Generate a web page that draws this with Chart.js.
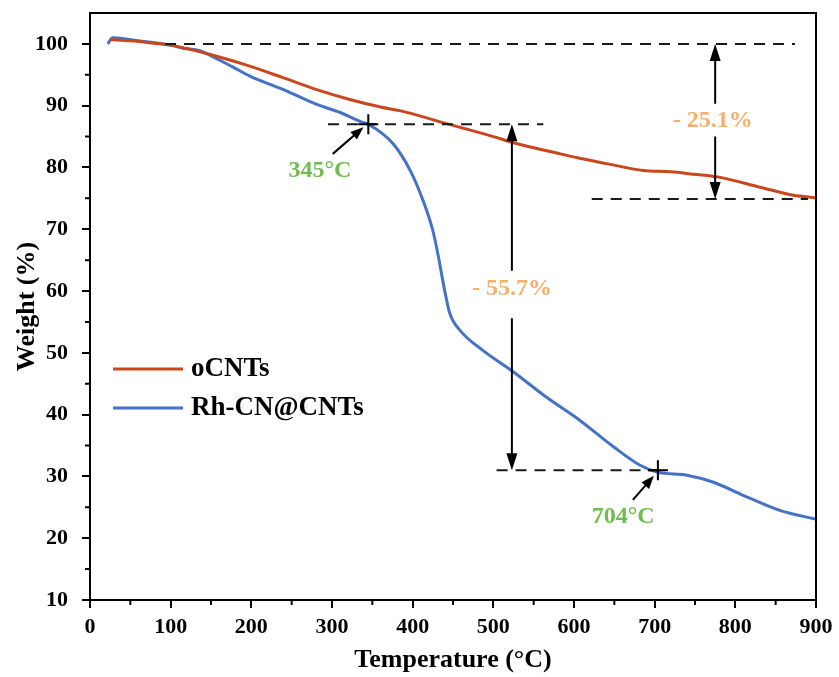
<!DOCTYPE html>
<html>
<head>
<meta charset="utf-8">
<script src="https://cdn.jsdelivr.net/npm/chart.js@4.4.1/dist/chart.umd.min.js"></script>
<style>
  body { margin: 0; background: #fff; }
</style>
</head>
<body>
<canvas id="tga" width="839" height="677"></canvas>
<script>
// TGA curves (temperature in °C, weight in %)
const oTemp = [25, 50, 74, 100, 115, 157, 198, 240, 281, 322, 363, 384, 442, 500, 525, 583, 607, 645, 686, 720, 748, 781, 831, 872, 900];
const oWeight = [100.7, 100.5, 100.2, 99.8, 99.4, 98.0, 96.4, 94.5, 92.6, 91.0, 89.7, 89.2, 87.1, 85.0, 84.0, 82.2, 81.5, 80.5, 79.5, 79.3, 78.9, 78.4, 76.8, 75.5, 75.1];

const rhTemp = [22, 28, 45, 60, 80, 100, 115, 136, 157, 178, 198, 240, 281, 310, 338, 345, 376, 397, 413, 425, 432, 438, 446, 459, 487, 525, 566, 607, 649, 682, 703, 740, 772, 814, 855, 896, 900];
const rhWeight = [100.0, 101.0, 100.8, 100.5, 100.2, 99.8, 99.3, 98.9, 97.6, 96.2, 94.8, 92.6, 90.2, 88.9, 87.3, 87.0, 83.8, 79.5, 74.6, 69.8, 65.5, 61.2, 56.4, 53.6, 50.4, 46.9, 42.8, 39.1, 34.8, 31.8, 30.7, 30.2, 29.1, 26.7, 24.5, 23.2, 23.1];

const seriesNames = ['oCNTs', 'Rh-CN@CNTs'];
const seriesColors = ['#C8471C', '#4472C4'];

// annotation positions in data units
const dashLines = [
    { x1: 93, x2: 874, y: 100 },
    { x1: 622, x2: 890, y: 74.9 },
    { x1: 295, x2: 562, y: 87 },
    { x1: 504, x2: 715, y: 31 }
];
const crossPoints = [[345, 87], [704, 31]];
const spanArrows = [
    { x: 775, top: 100, bottom: 74.9, gapTop: 90.3, gapBottom: 85.0 },
    { x: 523, top: 87, bottom: 31, gapTop: 63.3, gapBottom: 55.6 }
];
const pointerArrows = [
    { from: [301, 82.2], to: [339, 86.5] },
    { from: [673, 26.2], to: [699, 30.1] }
];
const notes = [
    { text: '- 25.1%', x: 772, y: 87.5, color: '#F6B06A' },
    { text: '- 55.7%', x: 523, y: 60.4, color: '#F6B06A' },
    { text: '345°C', x: 285, y: 79.5, color: '#6CBD4B' },
    { text: '704°C', x: 661, y: 23.4, color: '#6CBD4B' }
];

const serif = '"Liberation Serif", "Times New Roman", serif';

function arrowHead(ctx, tx, ty, angle, len, half) {
    ctx.beginPath();
    ctx.moveTo(tx, ty);
    ctx.lineTo(tx - len * Math.cos(angle) + half * Math.sin(angle), ty - len * Math.sin(angle) - half * Math.cos(angle));
    ctx.lineTo(tx - len * Math.cos(angle) - half * Math.sin(angle), ty - len * Math.sin(angle) + half * Math.cos(angle));
    ctx.closePath();
    ctx.fill();
}

const overlay = {
    id: 'overlay',
    afterDraw(chart) {
        const { ctx, chartArea: a, scales: { x, y } } = chart;
        const px = v => x.getPixelForValue(v);
        const py = v => y.getPixelForValue(v);
        ctx.save();

        // box
        ctx.strokeStyle = '#000';
        ctx.lineWidth = 2;
        ctx.strokeRect(a.left, a.top, a.right - a.left, a.bottom - a.top);

        // minor ticks
        ctx.beginPath();
        for (let v = 50; v < 900; v += 100) {
            ctx.moveTo(px(v), a.bottom);
            ctx.lineTo(px(v), a.bottom + 5);
        }
        for (let v = 15; v < 105; v += 10) {
            ctx.moveTo(a.left, py(v));
            ctx.lineTo(a.left - 5, py(v));
        }
        ctx.stroke();

        // dashed guide lines
        ctx.strokeStyle = '#1a1a1a';
        ctx.setLineDash([11, 8]);
        dashLines.forEach(d => {
            ctx.beginPath();
            ctx.moveTo(px(d.x1), py(d.y));
            ctx.lineTo(px(d.x2), py(d.y));
            ctx.stroke();
        });
        ctx.setLineDash([]);

        // cross markers
        ctx.strokeStyle = '#000';
        crossPoints.forEach(p => {
            ctx.beginPath();
            ctx.moveTo(px(p[0]), py(p[1]) - 10);
            ctx.lineTo(px(p[0]), py(p[1]) + 10);
            ctx.moveTo(px(p[0]) - 10, py(p[1]));
            ctx.lineTo(px(p[0]) + 10, py(p[1]));
            ctx.stroke();
        });

        // double arrows showing weight loss
        ctx.fillStyle = '#000';
        spanArrows.forEach(s => {
            const sx = px(s.x);
            ctx.beginPath();
            ctx.moveTo(sx, py(s.top) + 10);
            ctx.lineTo(sx, py(s.gapTop));
            ctx.moveTo(sx, py(s.gapBottom));
            ctx.lineTo(sx, py(s.bottom) - 10);
            ctx.stroke();
            arrowHead(ctx, sx, py(s.top), -Math.PI / 2, 17, 5.5);
            arrowHead(ctx, sx, py(s.bottom), Math.PI / 2, 17, 5.5);
        });

        // small pointer arrows
        pointerArrows.forEach(p => {
            const x1 = px(p.from[0]), y1 = py(p.from[1]);
            const x2 = px(p.to[0]), y2 = py(p.to[1]);
            const ang = Math.atan2(y2 - y1, x2 - x1);
            ctx.beginPath();
            ctx.moveTo(x1, y1);
            ctx.lineTo(x2 - 8 * Math.cos(ang), y2 - 8 * Math.sin(ang));
            ctx.stroke();
            arrowHead(ctx, x2, y2, ang, 13, 5);
        });

        // labels
        ctx.font = 'bold 24px ' + serif;
        ctx.textAlign = 'center';
        ctx.textBaseline = 'middle';
        notes.forEach(n => {
            ctx.fillStyle = n.color;
            ctx.fillText(n.text, px(n.x), py(n.y));
        });

        // legend
        ctx.font = 'bold 27px ' + serif;
        ctx.textAlign = 'left';
        seriesNames.forEach((name, i) => {
            const ly = 369 + i * 39;
            ctx.strokeStyle = seriesColors[i];
            ctx.lineWidth = 3;
            ctx.beginPath();
            ctx.moveTo(113, ly);
            ctx.lineTo(183, ly);
            ctx.stroke();
            ctx.fillStyle = '#000';
            ctx.fillText(name, 191, ly);
        });

        ctx.restore();
    }
};

const ctx = document.getElementById('tga').getContext('2d');

new Chart(ctx, {
    type: 'line',
    data: {
        datasets: [
            {
                label: seriesNames[0],
                data: oTemp.map((t, i) => ({ x: t, y: oWeight[i] })),
                borderColor: seriesColors[0],
                borderWidth: 3,
                pointRadius: 0,
                cubicInterpolationMode: 'monotone',
                fill: false
            },
            {
                label: seriesNames[1],
                data: rhTemp.map((t, i) => ({ x: t, y: rhWeight[i] })),
                borderColor: seriesColors[1],
                borderWidth: 3,
                pointRadius: 0,
                cubicInterpolationMode: 'monotone',
                fill: false
            }
        ]
    },
    options: {
        responsive: false,
        animation: false,
        layout: { padding: { top: 13, right: 23, left: 0, bottom: 0 } },
        plugins: {
            legend: { display: false },
            tooltip: { enabled: false }
        },
        scales: {
            x: {
                type: 'linear',
                min: 0,
                max: 900,
                ticks: {
                    stepSize: 100,
                    color: '#000',
                    padding: 6,
                    font: { family: serif, size: 22, weight: 'bold' }
                },
                grid: { drawOnChartArea: false, color: '#000', lineWidth: 2, tickLength: 8 },
                border: { color: '#000', width: 2 },
                title: {
                    display: true,
                    text: 'Temperature (°C)',
                    color: '#000',
                    padding: { top: 0, bottom: 1 },
                    font: { family: serif, size: 26, weight: 'bold' }
                },
                afterFit: s => { s.height = 77; s.paddingLeft = 0; s.paddingRight = 0; }
            },
            y: {
                min: 10,
                max: 105,
                ticks: {
                    stepSize: 10,
                    includeBounds: false,
                    color: '#000',
                    padding: 14,
                    font: { family: serif, size: 22, weight: 'bold' }
                },
                grid: { drawOnChartArea: false, color: '#000', lineWidth: 2, tickLength: 8 },
                border: { color: '#000', width: 2 },
                title: {
                    display: true,
                    text: 'Weight (%)',
                    color: '#000',
                    padding: { top: 12, bottom: 0 },
                    font: { family: serif, size: 26, weight: 'bold' }
                },
                afterFit: s => { s.width = 90; s.paddingTop = 0; s.paddingBottom = 0; }
            }
        }
    },
    plugins: [overlay]
});
</script>
</body>
</html>
